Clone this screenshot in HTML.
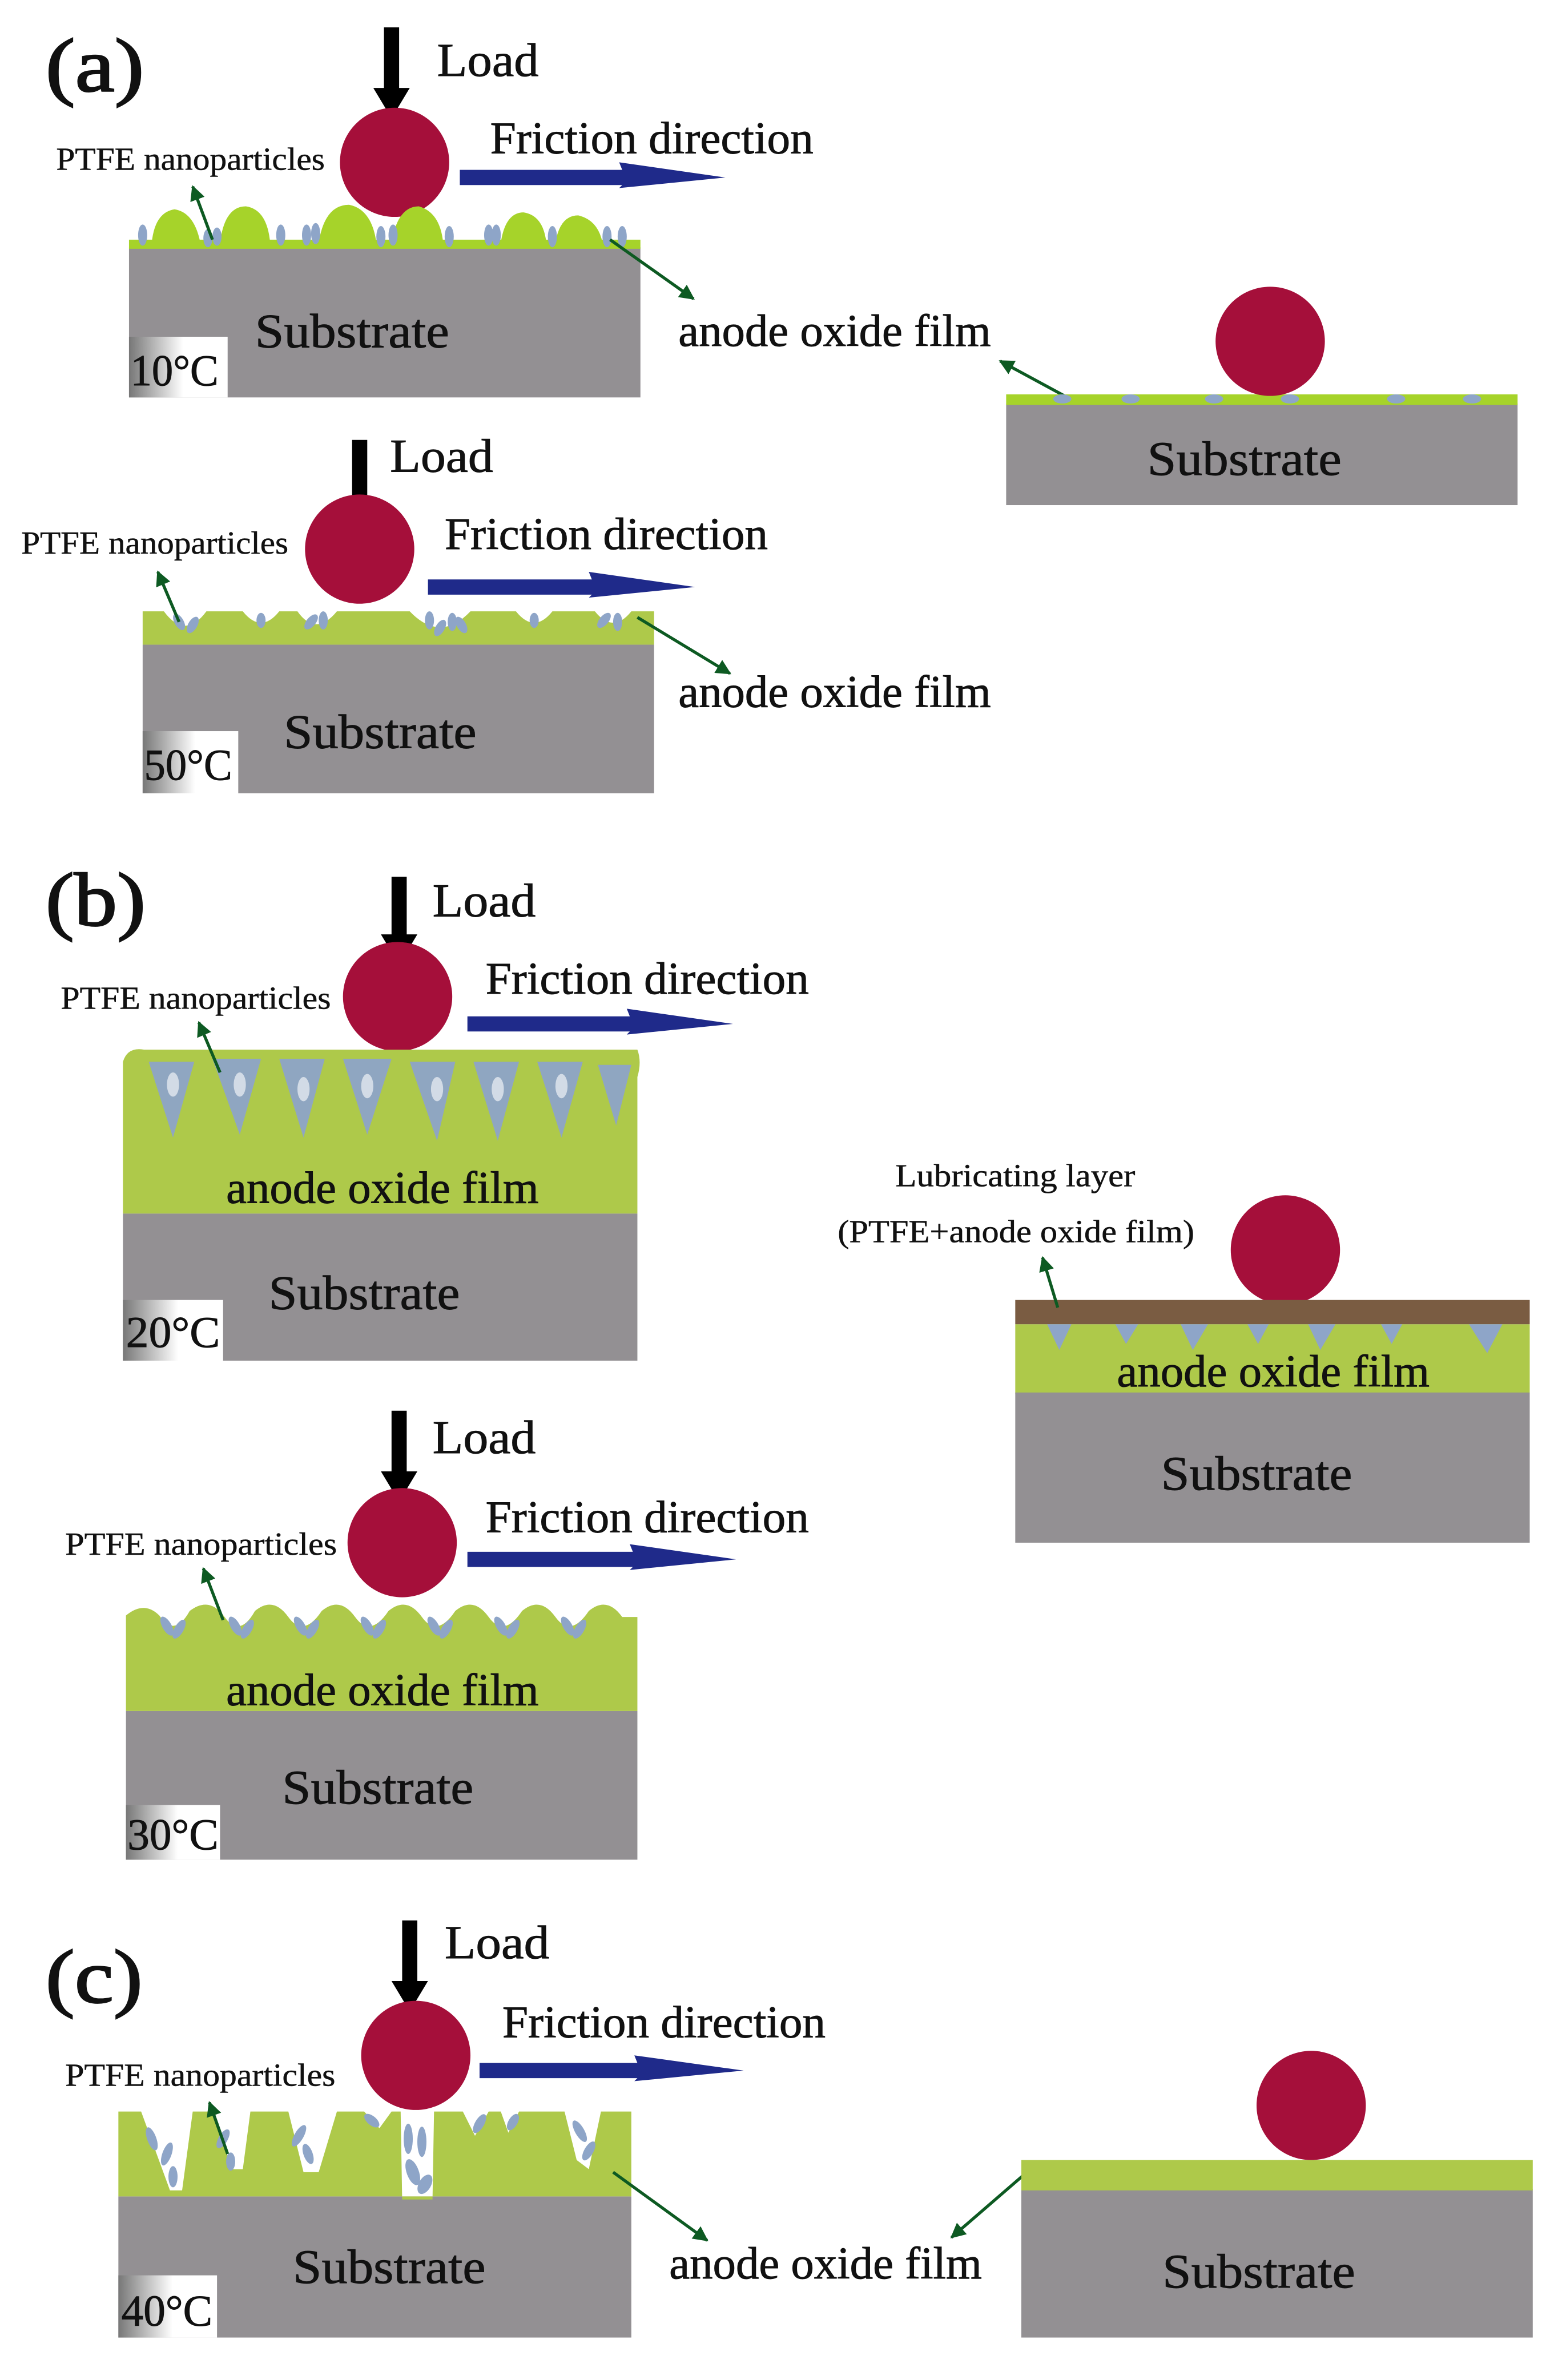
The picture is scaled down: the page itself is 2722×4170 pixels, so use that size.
<!DOCTYPE html>
<html><head><meta charset="utf-8"><style>html,body{margin:0;padding:0;background:#fff}svg{display:block}
text{font-family:"Liberation Serif",serif;fill:#111;stroke:#111;stroke-width:0.35}</style></head>
<body>
<svg width="2722" height="4170" viewBox="0 0 1024 1569" preserveAspectRatio="none" xmlns="http://www.w3.org/2000/svg">
<defs>
<linearGradient id="tg" x1="0" x2="1" y1="0" y2="0"><stop offset="0" stop-color="#777"/><stop offset="0.55" stop-color="#fff"/><stop offset="1" stop-color="#fff"/></linearGradient>
<marker id="ga" viewBox="0 0 10 10" refX="9" refY="5" markerWidth="5" markerHeight="5" orient="auto"><path d="M0,0 L10,5 L0,10 z" fill="#0d5a22"/></marker>
</defs>
<style>
.sub{fill:#939093}.gr{fill:#aec94a}.gr2{fill:#a6d32a}.p{fill:#8ea5c8}
.t26{font-size:30px}.t19{font-size:21px;stroke-width:0.2}.big{font-size:50px;stroke-width:1}.ld{font-size:31px}.sb{font-size:32px}.tc{font-size:29px}
.ga{stroke:#0d5a22;stroke-width:2;fill:none;marker-end:url(#ga)}
</style>

<!-- (a) -->
<text x="30" y="60" class="big" textLength="65" lengthAdjust="spacingAndGlyphs">(a)</text>
<polygon points="253,18 263,18 263,58 270,58 258,78 246,58 253,58" fill="#000"/>
<text x="288" y="50" class="ld" textLength="67" lengthAdjust="spacingAndGlyphs">Load</text>
<circle cx="260" cy="107" r="36" fill="#a50f3a"/>
<polygon points="303,112 410,112 408,107 478,117 408,124 410,122 303,122" fill="#1f2a8a"/>
<text x="323" y="101" class="t26" textLength="213" lengthAdjust="spacingAndGlyphs">Friction direction</text>
<text x="37" y="112" class="t19" textLength="177" lengthAdjust="spacingAndGlyphs">PTFE nanoparticles</text>
<rect x="85" y="163" width="337" height="99" class="sub"/>
<rect x="85" y="158" width="337" height="6" class="gr2"/>
<g class="gr2">
<path d="M100,160 Q102,140 115,138 Q128,140 132,160z"/><path d="M145,160 Q148,136 162,136 Q176,138 178,160z"/>
<path d="M210,160 Q214,135 230,135 Q245,138 248,160z"/><path d="M258,160 Q262,136 276,136 Q290,140 292,160z"/>
<path d="M330,160 Q333,140 345,140 Q358,142 360,160z"/><path d="M366,160 Q369,142 381,142 Q394,145 397,160z"/>
</g>
<g class="p">
<ellipse cx="94" cy="155" rx="3" ry="7"/><ellipse cx="137" cy="157" rx="3" ry="6"/><ellipse cx="143" cy="156" rx="3" ry="6"/><ellipse cx="185" cy="155" rx="3" ry="7"/>
<ellipse cx="202" cy="155" rx="3" ry="7"/><ellipse cx="208" cy="154" rx="3" ry="7"/><ellipse cx="251" cy="156" rx="3" ry="7"/><ellipse cx="259" cy="155" rx="3" ry="7"/>
<ellipse cx="296" cy="156" rx="3" ry="7"/><ellipse cx="322" cy="155" rx="3" ry="7"/><ellipse cx="327" cy="155" rx="3" ry="7"/><ellipse cx="364" cy="156" rx="3" ry="7"/><ellipse cx="400" cy="156" rx="3" ry="7"/><ellipse cx="410" cy="156" rx="3" ry="7"/>
</g>
<rect x="85" y="222" width="65" height="40" fill="url(#tg)"/>
<text x="86" y="254" class="tc" textLength="58" lengthAdjust="spacingAndGlyphs">10°C</text>
<text x="168" y="229" class="sb" textLength="128" lengthAdjust="spacingAndGlyphs">Substrate</text>
<line x1="140" y1="158" x2="127" y2="123" class="ga"/>
<line x1="402" y1="158" x2="457" y2="197" class="ga"/>
<text x="447" y="228" class="t26" textLength="206" lengthAdjust="spacingAndGlyphs">anode oxide film</text>
<line x1="707" y1="264" x2="659" y2="238" class="ga"/>
<rect x="663" y="266" width="337" height="67" class="sub"/>
<rect x="663" y="260" width="337" height="7" class="gr2"/>
<g class="p"><ellipse cx="700" cy="263" rx="6" ry="3"/><ellipse cx="745" cy="263" rx="6" ry="3"/><ellipse cx="800" cy="263" rx="6" ry="3"/><ellipse cx="850" cy="263" rx="6" ry="3"/><ellipse cx="920" cy="263" rx="6" ry="3"/><ellipse cx="970" cy="263" rx="6" ry="3"/></g>
<circle cx="837" cy="225" r="36" fill="#a50f3a"/>
<text x="756" y="313" class="sb" textLength="128" lengthAdjust="spacingAndGlyphs">Substrate</text>

<!-- 50C -->
<polygon points="232,290 242,290 242,330 249,330 237,350 225,330 232,330" fill="#000"/>
<text x="257" y="311" class="ld" textLength="68" lengthAdjust="spacingAndGlyphs">Load</text>
<circle cx="237" cy="362" r="36" fill="#a50f3a"/>
<polygon points="282,382 390,382 388,377 458,387 388,394 390,392 282,392" fill="#1f2a8a"/>
<text x="293" y="362" class="t26" textLength="213" lengthAdjust="spacingAndGlyphs">Friction direction</text>
<text x="14" y="365" class="t19" textLength="176" lengthAdjust="spacingAndGlyphs">PTFE nanoparticles</text>
<rect x="94" y="425" width="337" height="98" class="sub"/>
<path class="gr" d="M94,403 L108,403 Q122,422 136,403 L160,403 Q172,418 184,403 L196,403 Q208,420 222,403 L270,403 Q290,424 310,403 L340,403 Q352,418 364,403 L392,403 Q404,418 416,403 L431,403 L431,425 L94,425z"/>
<g class="p">
<ellipse cx="118" cy="410" rx="3" ry="6" transform="rotate(-30 118 410)"/><ellipse cx="127" cy="412" rx="3" ry="6" transform="rotate(30 127 412)"/>
<ellipse cx="172" cy="409" rx="3" ry="5"/><ellipse cx="205" cy="410" rx="3" ry="6" transform="rotate(40 205 410)"/><ellipse cx="213" cy="409" rx="3" ry="6"/>
<ellipse cx="283" cy="409" rx="3" ry="6"/><ellipse cx="290" cy="414" rx="3" ry="6" transform="rotate(30 290 414)"/><ellipse cx="298" cy="410" rx="3" ry="6"/><ellipse cx="304" cy="412" rx="3" ry="6" transform="rotate(-30 304 412)"/>
<ellipse cx="352" cy="409" rx="3" ry="5"/><ellipse cx="398" cy="409" rx="3" ry="6" transform="rotate(40 398 409)"/><ellipse cx="407" cy="410" rx="3" ry="6"/>
</g>
<rect x="94" y="482" width="63" height="41" fill="url(#tg)"/>
<text x="95" y="514" class="tc" textLength="58" lengthAdjust="spacingAndGlyphs">50°C</text>
<text x="187" y="493" class="sb" textLength="127" lengthAdjust="spacingAndGlyphs">Substrate</text>
<line x1="118" y1="410" x2="104" y2="377" class="ga"/>
<line x1="420" y1="407" x2="481" y2="444" class="ga"/>
<text x="447" y="466" class="t26" textLength="206" lengthAdjust="spacingAndGlyphs">anode oxide film</text>

<!-- (b) -->
<text x="30" y="610" class="big" textLength="66" lengthAdjust="spacingAndGlyphs">(b)</text>
<polygon points="258,578 268,578 268,616 275,616 263,636 251,616 258,616" fill="#000"/>
<text x="285" y="604" class="ld" textLength="68" lengthAdjust="spacingAndGlyphs">Load</text>
<circle cx="262" cy="657" r="36" fill="#a50f3a"/>
<polygon points="308,670 415,670 413,665 483,675 413,682 415,680 308,680" fill="#1f2a8a"/>
<text x="320" y="655" class="t26" textLength="213" lengthAdjust="spacingAndGlyphs">Friction direction</text>
<text x="40" y="665" class="t19" textLength="178" lengthAdjust="spacingAndGlyphs">PTFE nanoparticles</text>
<rect x="81" y="800" width="339" height="97" class="sub"/>
<path class="gr" d="M81,700 Q84,690 95,692 L420,692 Q423,700 420,710 L420,800 L81,800z"/>
<g class="p" opacity="0.95">
<path d="M98,700 L128,700 L114,750z"/><path d="M140,698 L172,698 L158,748z"/><path d="M184,698 L214,698 L200,750z"/><path d="M226,698 L258,698 L242,748z"/><path d="M270,700 L300,700 L288,752z"/><path d="M312,700 L342,700 L328,752z"/><path d="M354,700 L384,700 L370,750z"/><path d="M394,702 L416,702 L406,742z"/>
</g>
<g fill="#fff" opacity="0.6">
<ellipse cx="114" cy="715" rx="4" ry="8"/><ellipse cx="158" cy="715" rx="4" ry="8"/><ellipse cx="200" cy="718" rx="4" ry="8"/><ellipse cx="242" cy="716" rx="4" ry="8"/><ellipse cx="288" cy="718" rx="4" ry="8"/><ellipse cx="328" cy="718" rx="4" ry="8"/><ellipse cx="370" cy="716" rx="4" ry="8"/>
</g>
<rect x="81" y="857" width="66" height="40" fill="url(#tg)"/>
<text x="83" y="888" class="tc" textLength="62" lengthAdjust="spacingAndGlyphs">20°C</text>
<text x="149" y="793" class="t26" textLength="206" lengthAdjust="spacingAndGlyphs">anode oxide film</text>
<text x="177" y="863" class="sb" textLength="126" lengthAdjust="spacingAndGlyphs">Substrate</text>
<line x1="145" y1="707" x2="131" y2="674" class="ga"/>

<!-- lubricating right -->
<text x="590" y="782" class="t19" textLength="158" lengthAdjust="spacingAndGlyphs">Lubricating layer</text>
<text x="552" y="819" class="t19" textLength="235" lengthAdjust="spacingAndGlyphs">(PTFE+anode oxide film)</text>
<circle cx="847" cy="824" r="36" fill="#a50f3a"/>
<rect x="669" y="873" width="339" height="46" class="gr"/>
<rect x="669" y="918" width="339" height="99" class="sub"/>
<rect x="669" y="857" width="339" height="16" fill="#7a5c42"/>
<g class="p"><path d="M690,873 L706,873 L698,890z"/><path d="M735,873 L750,873 L742,886z"/><path d="M778,873 L796,873 L786,890z"/><path d="M822,873 L836,873 L829,886z"/><path d="M862,873 L880,873 L870,890z"/><path d="M910,873 L924,873 L917,886z"/><path d="M968,873 L990,873 L980,892z"/></g>
<text x="736" y="914" class="t26" textLength="206" lengthAdjust="spacingAndGlyphs">anode oxide film</text>
<text x="765" y="982" class="sb" textLength="126" lengthAdjust="spacingAndGlyphs">Substrate</text>
<line x1="697" y1="862" x2="687" y2="829" class="ga"/>

<!-- 30C -->
<polygon points="258,930 268,930 268,970 275,970 263,990 251,970 258,970" fill="#000"/>
<text x="285" y="958" class="ld" textLength="68" lengthAdjust="spacingAndGlyphs">Load</text>
<circle cx="265" cy="1017" r="36" fill="#a50f3a"/>
<polygon points="308,1023 417,1023 415,1018 485,1028 415,1035 417,1033 308,1033" fill="#1f2a8a"/>
<text x="320" y="1010" class="t26" textLength="213" lengthAdjust="spacingAndGlyphs">Friction direction</text>
<text x="43" y="1025" class="t19" textLength="179" lengthAdjust="spacingAndGlyphs">PTFE nanoparticles</text>
<rect x="83" y="1128" width="337" height="98" class="sub"/>
<path class="gr" d="M83,1065 Q95,1055 105,1065 Q115,1080 125,1062 Q138,1052 148,1066 Q158,1080 168,1062 Q180,1052 190,1066 Q200,1080 212,1062 Q224,1052 234,1066 Q244,1080 256,1062 Q268,1052 278,1066 Q288,1080 300,1062 Q312,1052 322,1066 Q332,1080 344,1062 Q356,1052 366,1066 Q376,1080 388,1062 Q400,1052 410,1066 L420,1066 L420,1128 L83,1128z"/>
<g class="p">
<ellipse cx="110" cy="1072" rx="3" ry="7" transform="rotate(-30 110 1072)"/><ellipse cx="118" cy="1074" rx="3" ry="7" transform="rotate(30 118 1074)"/>
<ellipse cx="155" cy="1072" rx="3" ry="7" transform="rotate(-30 155 1072)"/><ellipse cx="163" cy="1074" rx="3" ry="7" transform="rotate(30 163 1074)"/>
<ellipse cx="198" cy="1072" rx="3" ry="7" transform="rotate(-30 198 1072)"/><ellipse cx="206" cy="1074" rx="3" ry="7" transform="rotate(30 206 1074)"/>
<ellipse cx="242" cy="1072" rx="3" ry="7" transform="rotate(-30 242 1072)"/><ellipse cx="250" cy="1074" rx="3" ry="7" transform="rotate(30 250 1074)"/>
<ellipse cx="286" cy="1072" rx="3" ry="7" transform="rotate(-30 286 1072)"/><ellipse cx="294" cy="1074" rx="3" ry="7" transform="rotate(30 294 1074)"/>
<ellipse cx="330" cy="1072" rx="3" ry="7" transform="rotate(-30 330 1072)"/><ellipse cx="338" cy="1074" rx="3" ry="7" transform="rotate(30 338 1074)"/>
<ellipse cx="374" cy="1072" rx="3" ry="7" transform="rotate(-30 374 1072)"/><ellipse cx="382" cy="1074" rx="3" ry="7" transform="rotate(30 382 1074)"/>
</g>
<rect x="83" y="1190" width="62" height="36" fill="url(#tg)"/>
<text x="84" y="1219" class="tc" textLength="60" lengthAdjust="spacingAndGlyphs">30°C</text>
<text x="149" y="1124" class="t26" textLength="206" lengthAdjust="spacingAndGlyphs">anode oxide film</text>
<text x="186" y="1189" class="sb" textLength="126" lengthAdjust="spacingAndGlyphs">Substrate</text>
<line x1="147" y1="1068" x2="134" y2="1034" class="ga"/>

<!-- (c) -->
<text x="30" y="1320" class="big" textLength="64" lengthAdjust="spacingAndGlyphs">(c)</text>
<polygon points="265,1266 275,1266 275,1306 282,1306 270,1326 258,1306 265,1306" fill="#000"/>
<text x="293" y="1291" class="ld" textLength="69" lengthAdjust="spacingAndGlyphs">Load</text>
<circle cx="274" cy="1355" r="36" fill="#a50f3a"/>
<polygon points="316,1360 420,1360 418,1355 490,1365 418,1372 420,1370 316,1370" fill="#1f2a8a"/>
<text x="331" y="1343" class="t26" textLength="213" lengthAdjust="spacingAndGlyphs">Friction direction</text>
<text x="43" y="1375" class="t19" textLength="178" lengthAdjust="spacingAndGlyphs">PTFE nanoparticles</text>
<rect x="78" y="1448" width="338" height="93" class="sub"/>
<path class="gr" d="M78,1392 L93,1392 L112,1444 L120,1444 L127,1392 L140,1392 L153,1430 L160,1430 L165,1392 L190,1392 L200,1432 L210,1432 L222,1392 L240,1392 L250,1403 L258,1392 L264,1392 L265,1450 L285,1450 L286,1392 L305,1392 L313,1408 L322,1392 L330,1392 L335,1406 L342,1392 L372,1392 L380,1424 L388,1430 L396,1392 L416,1392 L416,1448 L78,1448z"/>
<g class="p">
<ellipse cx="100" cy="1410" rx="3" ry="8" transform="rotate(-20 100 1410)"/><ellipse cx="110" cy="1420" rx="3" ry="8" transform="rotate(20 110 1420)"/><ellipse cx="114" cy="1435" rx="3" ry="7"/>
<ellipse cx="147" cy="1410" rx="3" ry="7" transform="rotate(30 147 1410)"/><ellipse cx="152" cy="1425" rx="3" ry="6"/>
<ellipse cx="197" cy="1408" rx="3" ry="8" transform="rotate(30 197 1408)"/><ellipse cx="203" cy="1420" rx="3" ry="7" transform="rotate(-20 203 1420)"/>
<ellipse cx="245" cy="1398" rx="6" ry="3" transform="rotate(40 245 1398)"/>
<ellipse cx="269" cy="1410" rx="3" ry="10"/><ellipse cx="278" cy="1412" rx="3" ry="10"/><ellipse cx="272" cy="1432" rx="4" ry="9" transform="rotate(-20 272 1432)"/><ellipse cx="280" cy="1440" rx="4" ry="7" transform="rotate(30 280 1440)"/>
<ellipse cx="316" cy="1400" rx="3" ry="7" transform="rotate(30 316 1400)"/><ellipse cx="338" cy="1399" rx="3" ry="6" transform="rotate(30 338 1399)"/>
<ellipse cx="382" cy="1405" rx="3" ry="8" transform="rotate(-30 382 1405)"/><ellipse cx="388" cy="1418" rx="3" ry="7" transform="rotate(30 388 1418)"/>
</g>
<rect x="78" y="1500" width="65" height="41" fill="url(#tg)"/>
<text x="80" y="1533" class="tc" textLength="60" lengthAdjust="spacingAndGlyphs">40°C</text>
<text x="193" y="1505" class="sb" textLength="127" lengthAdjust="spacingAndGlyphs">Substrate</text>
<line x1="150" y1="1420" x2="138" y2="1386" class="ga"/>
<line x1="404" y1="1432" x2="466" y2="1477" class="ga"/>
<text x="441" y="1502" class="t26" textLength="206" lengthAdjust="spacingAndGlyphs">anode oxide film</text>
<line x1="679" y1="1430" x2="627" y2="1475" class="ga"/>
<rect x="673" y="1443" width="337" height="98" class="sub"/>
<rect x="673" y="1424" width="337" height="20" class="gr"/>
<circle cx="864" cy="1388" r="36" fill="#a50f3a"/>
<text x="766" y="1508" class="sb" textLength="127" lengthAdjust="spacingAndGlyphs">Substrate</text>
</svg>
</body></html>
